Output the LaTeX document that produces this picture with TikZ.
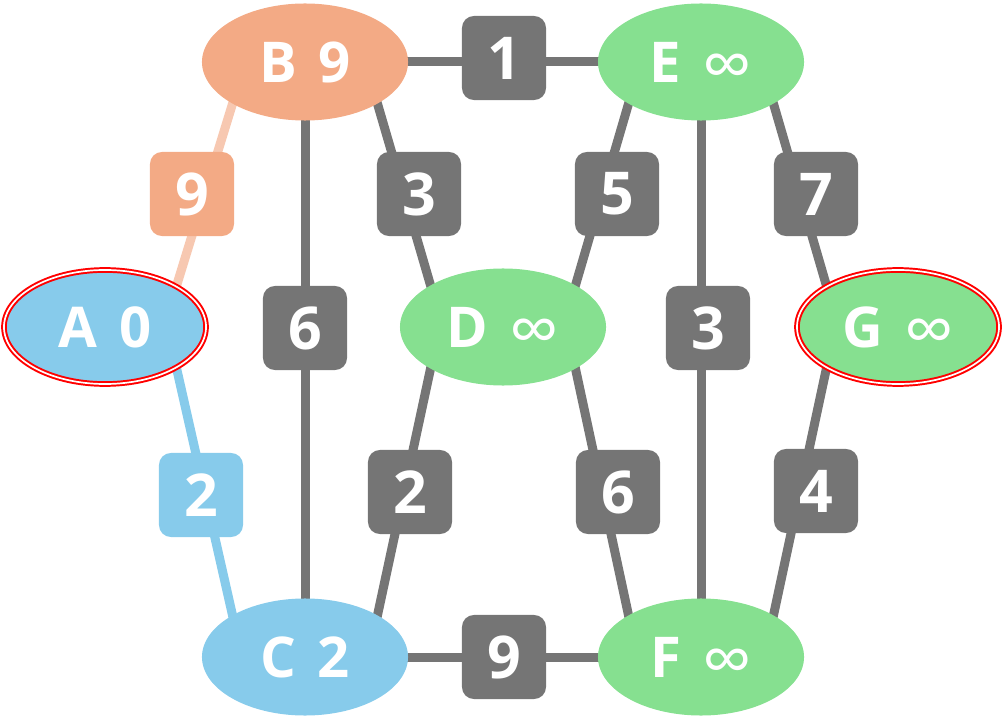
\documentclass[tikz,border=0pt]{standalone}
\usepackage{fontspec}
\setmainfont{Open Sans}
\usetikzlibrary{shapes.geometric}
\usetikzlibrary{backgrounds}

\definecolor{nodeblue}{RGB}{135,203,235}
\definecolor{nodesalmon}{RGB}{243,170,133}
\definecolor{edgesalmon}{RGB}{247,200,177}
\definecolor{nodegreen}{RGB}{134,224,144}
\definecolor{edgegray}{RGB}{117,117,117}

% vertex label: name and distance
\newcommand{\dist}[2]{#1\hspace{0.38em}#2}
\newcommand{\infdist}{\smash{\raisebox{-5pt}{\mdseries\fontsize{50}{50}\selectfont ∞}}}

\tikzset{
    vertex/.style={ellipse, minimum width=5.15cm, minimum height=2.925cm, inner sep=0pt,
        text=white, font=\fontsize{40}{40}\selectfont\bfseries},
    goal/.style={draw=red, double=white, line width=1.4pt, double distance=1.2pt,
        minimum width=5.05cm, minimum height=2.85cm},
    weight/.style={rounded corners=8.5pt, minimum size=2.1cm, inner sep=0pt,
        text=white, font=\fontsize{42}{42}\selectfont\bfseries, fill=edgegray},
    link/.style={line width=6.4pt, edgegray, shorten <=-5pt, shorten >=-5pt},
}

\begin{document}
\begin{tikzpicture}[x=0.025cm, y=-0.025cm]
    \useasboundingbox (0,0) rectangle (1006,728);

    % Vertices
    \node[vertex, fill=nodeblue, goal] (A) at (105,327) {\dist{A}{0}};
    \node[vertex, fill=nodesalmon] (B) at (305,62) {\dist{B}{9}};
    \node[vertex, fill=nodeblue] (C) at (305,657) {\dist{C}{2}};
    \node[vertex, fill=nodegreen] (D) at (503,327) {\dist{D}{\infdist}};
    \node[vertex, fill=nodegreen] (E) at (701,62) {\dist{E}{\infdist}};
    \node[vertex, fill=nodegreen] (F) at (701,657) {\dist{F}{\infdist}};
    \node[vertex, fill=nodegreen, goal] (G) at (898,327) {\dist{G}{\infdist}};

    % Edges
    \begin{scope}[on background layer]
        \draw[link, edgesalmon] (A.30) -- (B.-150);
        \draw[link, nodeblue] (A.-30) -- (C.150);
        \draw[link] (B.south) -- (C.north);
        \draw[link] (B.east) -- (E.west);
        \draw[link] (B.-30) -- (D.150);
        \draw[link] (E.-150) -- (D.30);
        \draw[link] (E.south) -- (F.north);
        \draw[link] (E.-30) -- (G.150);
        \draw[link] (D.-150) -- (C.30);
        \draw[link] (D.-30) -- (F.150);
        \draw[link] (G.-150) -- (F.30);
        \draw[link] (C.east) -- (F.west);
    \end{scope}

    % Weights
    \node[weight, fill=nodesalmon] (wAB) at (192,194) {9};
    \node[weight, fill=nodeblue] (wAC) at (201,495) {2};
    \foreach \name/\x/\y/\w in {wBE/504/58/1, wBC/305/328/6, wBD/419/194/3,
        wED/617/194/5, wEF/708/328/3, wEG/816/194/7, wDC/410/492/2,
        wDF/618/492/6, wGF/816/491/4, wCF/504/657/9}
        \node[weight] (\name) at (\x,\y) {\w};
\end{tikzpicture}
\end{document}
